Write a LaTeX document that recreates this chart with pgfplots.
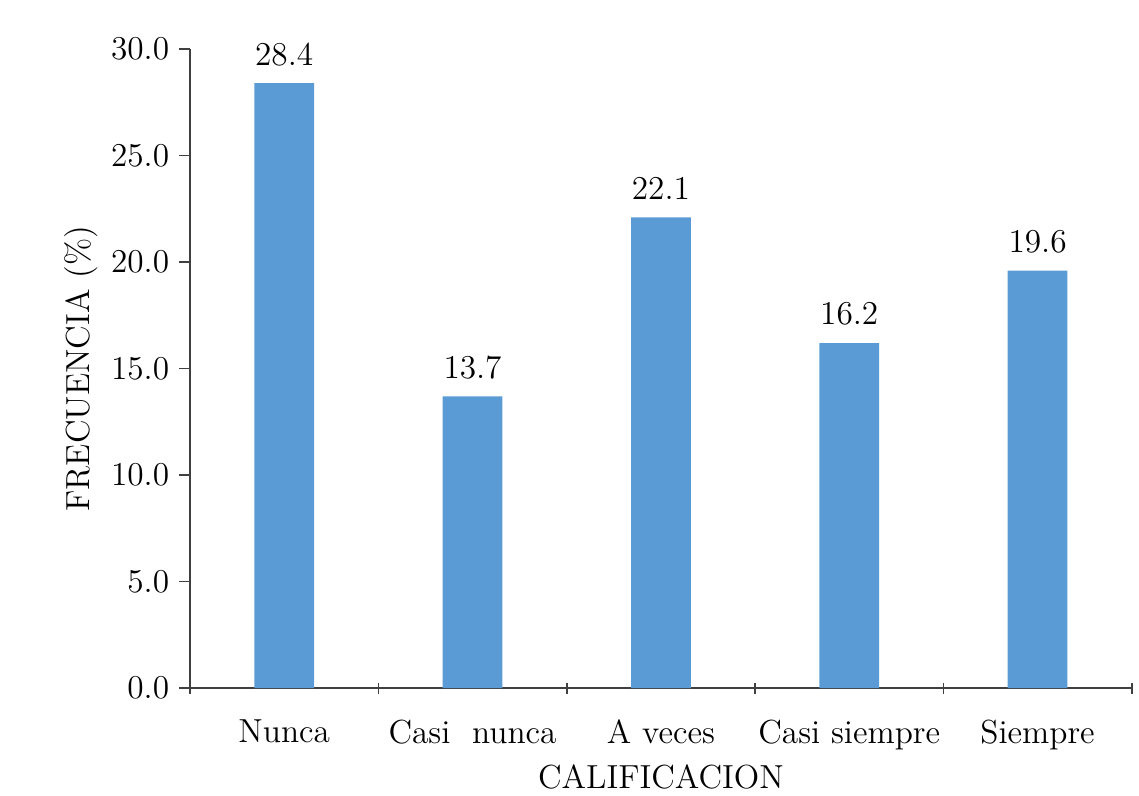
\documentclass[border=0pt]{standalone}
\usepackage{pgfplots}
\pgfplotsset{compat=1.18}
\definecolor{barblue}{HTML}{5B9BD5}
\definecolor{axisgray}{HTML}{404040}
\begin{document}
\begin{tikzpicture}
\useasboundingbox (-68.4pt,-38.5pt) rectangle (341.6pt,247.7pt);
\begin{axis}[
  at={(0,0)}, anchor=south west,
  scale only axis,
  width=339pt, height=230pt,
  xmin=-0.5, xmax=4.5,
  ymin=0, ymax=30,
  axis x line*=bottom,
  axis y line*=left,
  axis line style={axisgray, line width=0.8pt},
  every tick/.style={axisgray, line width=0.6pt},
  major tick length=4pt,
  xtick={-0.5,0.5,1.5,2.5,3.5,4.5},
  x tick label as interval=true,
  xticklabels={Nunca,Casi~~nunca,A veces,Casi siempre,Siempre},
  ytick={0,5,...,30},
  ytick align=outside,
  xtick align=center,
  yticklabel style={/pgf/number format/fixed, /pgf/number format/fixed zerofill, /pgf/number format/precision=1},
  tick label style={font=\large},
  label style={font=\large},
  xlabel={CALIFICACION},
  ylabel={FRECUENCIA (\%)},
  xlabel style={yshift=1.5pt},
  ylabel style={yshift=-2pt},
  xticklabel style={yshift=-6pt},
  clip=false,
  nodes near coords,
  nodes near coords style={font=\large, yshift=3pt, /pgf/number format/fixed, /pgf/number format/fixed zerofill, /pgf/number format/precision=1},
]
\addplot[ybar, bar width=21.5pt, fill=barblue, draw=none]
  coordinates {(0,28.4) (1,13.7) (2,22.1) (3,16.2) (4,19.6)};
\end{axis}
\end{tikzpicture}
\end{document}
